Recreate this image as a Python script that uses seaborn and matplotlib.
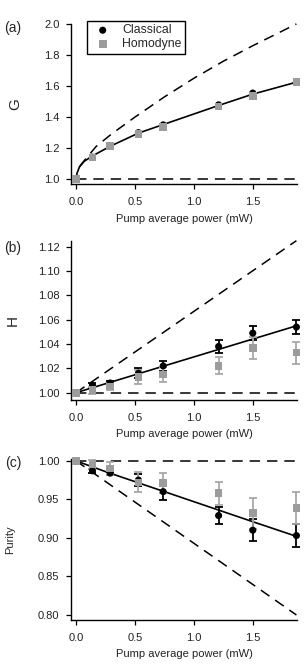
import numpy as np
import pandas as pd
import matplotlib
matplotlib.use("Agg")
import matplotlib.pyplot as plt
import seaborn as sns

# ------------------------------------------------------------------
# Data
# ------------------------------------------------------------------
power = [0.0, 0.14, 0.29, 0.53, 0.74, 1.21, 1.50, 1.87]

G_classical = [1.000, 1.142, 1.215, 1.300, 1.350, 1.479, 1.555, 1.625]
G_homodyne = [1.000, 1.140, 1.213, 1.290, 1.335, 1.468, 1.537, 1.628]

H_classical = [1.000, 1.0062, 1.008, 1.016, 1.022, 1.038, 1.049, 1.054]
H_classical_err = [0.0, 0.002, 0.002, 0.004, 0.004, 0.005, 0.006, 0.006]
H_homodyne = [1.000, 1.002, 1.005, 1.013, 1.015, 1.022, 1.037, 1.033]
H_homodyne_err = [0.0, 0.003, 0.003, 0.006, 0.006, 0.007, 0.009, 0.009]

P_classical = [1.000, 0.987, 0.984, 0.975, 0.960, 0.929, 0.910, 0.903]
P_classical_err = [0.0, 0.003, 0.002, 0.008, 0.011, 0.011, 0.014, 0.015]
P_homodyne = [1.000, 0.995, 0.990, 0.972, 0.971, 0.958, 0.932, 0.939]
P_homodyne_err = [0.0, 0.006, 0.009, 0.013, 0.013, 0.015, 0.020, 0.021]

# fitted (solid) and ideal (dashed) curves
G_fit_x = [0.0, 0.01, 0.03, 0.07, 0.14, 0.29, 0.53, 0.74, 1.00, 1.21, 1.50, 1.87]
G_fit_y = [1.000, 1.040, 1.080, 1.115, 1.150, 1.212, 1.297, 1.352, 1.420, 1.475, 1.548, 1.625]
G_ideal_x = [0.03, 0.06, 0.17, 0.30, 0.50, 0.75, 1.00, 1.25, 1.50, 1.87]
G_ideal_y = [1.08, 1.11, 1.21, 1.29, 1.40, 1.53, 1.65, 1.76, 1.86, 2.00]

H_fit_x = [0.0, 1.87]
H_fit_y = [1.000, 1.055]
H_ideal_x = [0.0, 1.87]
H_ideal_y = [1.000, 1.125]

P_fit_x = [0.0, 0.25, 0.50, 0.75, 1.00, 1.25, 1.50, 1.87]
P_fit_y = [1.000, 0.986, 0.973, 0.960, 0.947, 0.934, 0.921, 0.902]
P_ideal_x = [0.0, 1.87]
P_ideal_y = [1.000, 0.800]

base_x = [0.0, 1.87]
base_y = [1.0, 1.0]

GRAY = '#9c9c9c'
GRAY_ERR = '#a8a8a8'

sns.set_theme(style='ticks')
plt.rcParams['font.family'] = ['Liberation Sans', 'DejaVu Sans']
plt.rcParams['axes.linewidth'] = 1.0
plt.rcParams['lines.scale_dashes'] = False

fig = plt.figure(figsize=(3.06, 6.66), dpi=100)
left, width = 0.232, 0.7386
ax_a = fig.add_axes([left, 0.723, width, 0.241])
ax_b = fig.add_axes([left, 0.3994, width, 0.2383])
ax_c = fig.add_axes([left, 0.0691, width, 0.2413])

DASH = (7.5, 5.0)


def style_axis(ax, ylim, yticks, fmt):
    ax.set_xlim(-0.042, 1.875)
    ax.set_ylim(*ylim)
    ax.set_xticks([0.0, 0.5, 1.0, 1.5])
    ax.set_xticklabels(['0.0', '0.5', '1.0', '1.5'])
    ax.set_yticks(yticks)
    ax.set_yticklabels([fmt.format(t) for t in yticks])
    for s in ['top', 'right']:
        ax.spines[s].set_visible(False)
    for s in ['left', 'bottom']:
        ax.spines[s].set_color('black')
    ax.tick_params(direction='out', length=3.8, width=0.9, colors='black',
                   labelsize=8, labelcolor='#222222', pad=4.5)
    ax.tick_params(axis='x', pad=5.5)
    ax.set_xlabel('Pump average power (mW)', fontsize=8, color='#222222', labelpad=4.5)


def draw_lines(ax, fit_x, fit_y, ideal_x, ideal_y):
    sns.lineplot(x=base_x, y=base_y, ax=ax, color='black', lw=1.1, zorder=1)
    ax.lines[-1].set_dashes(DASH)
    sns.lineplot(x=ideal_x, y=ideal_y, ax=ax, color='black', lw=1.1, zorder=1)
    ax.lines[-1].set_dashes(DASH)
    sns.lineplot(x=fit_x, y=fit_y, ax=ax, color='black', lw=1.2, zorder=2)


def draw_points(ax, cl, hd, cl_err=None, hd_err=None):
    if cl_err is not None:
        ax.errorbar(power, cl, yerr=cl_err, fmt='none', ecolor='black',
                    elinewidth=1.3, capsize=3, capthick=1.3, zorder=3)
        ax.errorbar(power, hd, yerr=hd_err, fmt='none', ecolor=GRAY_ERR,
                    elinewidth=1.3, capsize=3, capthick=1.3, zorder=4)
    sns.scatterplot(x=power, y=cl, ax=ax, marker='o', color='black', s=26,
                    edgecolor='none', zorder=5, label='Classical')
    sns.scatterplot(x=power, y=hd, ax=ax, marker='s', color=GRAY, s=30,
                    edgecolor='none', zorder=6, label='Homodyne')


# (a) G
draw_lines(ax_a, G_fit_x, G_fit_y, G_ideal_x, G_ideal_y)
draw_points(ax_a, G_classical, G_homodyne)
style_axis(ax_a, (0.966, 2.0), [1.0, 1.2, 1.4, 1.6, 1.8, 2.0], '{:.1f}')
ax_a.set_ylabel('G', fontsize=11)
ax_a.yaxis.set_label_coords(-0.217, 0.5)
leg = ax_a.legend(loc='upper left', bbox_to_anchor=(0.07, 1.02), fontsize=8.8,
                  frameon=True, fancybox=False, framealpha=1, edgecolor='black',
                  handletextpad=0.6, borderpad=0.3, labelspacing=0.15,
                  handlelength=2.0, borderaxespad=0)
leg.get_frame().set_linewidth(1.0)

# (b) H
draw_lines(ax_b, H_fit_x, H_fit_y, H_ideal_x, H_ideal_y)
draw_points(ax_b, H_classical, H_homodyne, H_classical_err, H_homodyne_err)
ax_b.get_legend().remove()
style_axis(ax_b, (0.994, 1.1245), [1.00, 1.02, 1.04, 1.06, 1.08, 1.10, 1.12], '{:.2f}')
ax_b.set_ylabel('H', fontsize=11)
ax_b.yaxis.set_label_coords(-0.226, 0.5)

# (c) Purity
draw_lines(ax_c, P_fit_x, P_fit_y, P_ideal_x, P_ideal_y)
draw_points(ax_c, P_classical, P_homodyne, P_classical_err, P_homodyne_err)
ax_c.get_legend().remove()
style_axis(ax_c, (0.7935, 1.002), [0.80, 0.85, 0.90, 0.95, 1.00], '{:.2f}')
ax_c.set_ylabel('Purity', fontsize=8)
ax_c.yaxis.set_label_coords(-0.248, 0.5)

for ax in (ax_a, ax_b, ax_c):
    for child in ax.get_children():
        try:
            child.set_clip_on(False)
        except Exception:
            pass

fig.text(13 / 306, 1 - 28 / 666, '(a)', fontsize=10, ha='center', va='center')
fig.text(13 / 306, 1 - 248 / 666, '(b)', fontsize=10, ha='center', va='center')
fig.text(13 / 306, 1 - 463 / 666, '(c)', fontsize=10, ha='center', va='center')

fig.savefig('out.png', dpi=100)
